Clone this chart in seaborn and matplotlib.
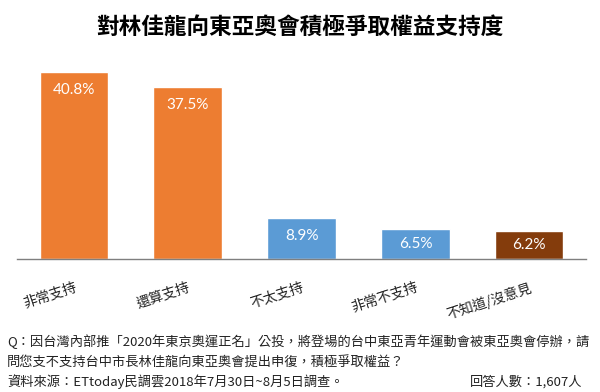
import seaborn as sns
import matplotlib.pyplot as plt
import pandas as pd

# 資料
categories = ["非常支持", "還算支持", "不太支持", "非常不支持", "不知道/沒意見"]
values = [40.8, 37.5, 8.9, 6.5, 6.2]
colors = ["#ED7D31", "#ED7D31", "#5B9BD5", "#5B9BD5", "#843C0C"]

title = "對林佳龍向東亞奧會積極爭取權益支持度"
question = ["Q：因台灣內部推「2020年東京奧運正名」公投，將登場的台中東亞青年運動會被東亞奧會停辦，請",
            "問您支不支持台中市長林佳龍向東亞奧會提出申復，積極爭取權益？"]
source = "資料來源：ETtoday民調雲2018年7月30日~8月5日調查。"
sample = "回答人數：1,607人"

sns.set_theme(style="white")
plt.rcParams["font.family"] = ["Noto Sans CJK TC", "DejaVu Sans"]

df = pd.DataFrame({"cat": categories, "val": values})

fig = plt.figure(figsize=(6, 3.92), dpi=100)
ax = fig.add_axes([0.028, 0.339, 0.949, 0.508])

sns.barplot(data=df, x="cat", y="val", hue="cat", palette=colors,
            width=0.6, saturation=1, legend=False, ax=ax)

ax.set_ylim(0, 43.4)
ax.set_xlim(-0.5, 4.5)
ax.set_xlabel("")
ax.set_ylabel("")
ax.set_yticks([])
sns.despine(ax=ax, left=True)
ax.spines["bottom"].set_color("#7f7f7f")
ax.spines["bottom"].set_linewidth(1.0)

# 數值標籤（白字，放在柱頂內側）
for i, v in enumerate(values):
    ax.text(i, max(v - 3.9, v / 2), f"{v}%", ha="center", va="center",
            color="white", fontsize=11, family=["Lato", "DejaVu Sans"])

ax.set_xticks(range(len(categories)))
ax.set_xticklabels(categories, rotation=18, ha="right", va="top",
                   rotation_mode="anchor", fontsize=10, color="#222222")
ax.tick_params(axis="x", length=0, pad=15)

fig.text(0.5, 0.931, title, ha="center", va="center", fontsize=16.3,
         fontweight="bold", color="black")

fig.text(0.012, 0.128, question[0], ha="left", va="center", fontsize=9.5, color="#222222")
fig.text(0.012, 0.0765, question[1], ha="left", va="center", fontsize=9.5, color="#222222")
fig.text(0.012, 0.0255, source, ha="left", va="center", fontsize=9.5, color="#222222")
fig.text(0.97, 0.0255, sample, ha="right", va="center", fontsize=9.5, color="#222222")

fig.savefig("out.png", dpi=100)
